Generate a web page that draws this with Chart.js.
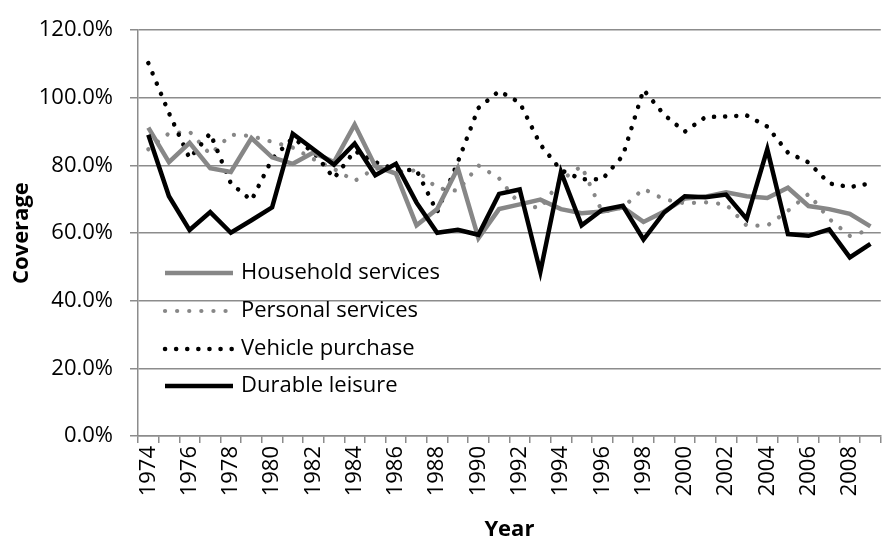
<!DOCTYPE html>
<html>
<head>
<meta charset="utf-8">
<script src="https://cdn.jsdelivr.net/npm/chart.js@4/dist/chart.umd.min.js"></script>
<style>
  html, body { margin: 0; padding: 0; background: #fff; overflow: hidden; }
  #wrap { width: 900px; height: 547px; }
</style>
</head>
<body>
<div id="wrap"><canvas id="chart" width="900" height="547"></canvas></div>
<script>
// --- Data ---
const years = [];
for (let y = 1974; y <= 2009; y++) years.push(String(y));

const household = [91.2, 81.0, 86.7, 79.2, 78.1, 88.1, 82.4, 80.5, 83.8, 81.0, 92.1, 79.8,
    77.6, 62.3, 67.1, 79.2, 58.5, 67.1, 68.5, 69.9, 67.1, 65.9, 66.4, 67.6,
    63.3, 66.4, 70.2, 70.8, 72.1, 70.9, 70.4, 73.4, 68.0, 67.1, 65.7, 62.0];
const personal = [84.8, 89.5, 90.0, 83.3, 89.1, 88.7, 87.0, 85.3, 81.9, 79.0, 75.4, 79.2,
    78.0, 78.6, 73.3, 72.5, 80.0, 76.2, 68.5, 67.4, 75.7, 79.8, 66.2, 67.6,
    73.1, 70.0, 68.8, 69.1, 68.5, 62.2, 62.2, 66.6, 71.6, 64.2, 59.2, 61.0];
const vehicle = [110.3, 95.5, 82.1, 89.5, 74.7, 69.7, 81.9, 88.1, 84.0, 76.2, 84.3, 81.0,
    78.8, 78.6, 66.2, 81.0, 97.0, 102.0, 98.6, 86.2, 78.6, 75.9, 75.9, 82.9,
    102.4, 95.0, 90.0, 94.3, 94.5, 94.8, 91.5, 83.8, 80.9, 74.7, 73.6, 74.7];
const durable = [89.1, 70.9, 60.9, 66.2, 60.1, 63.8, 67.6, 89.4, 84.8, 80.2, 86.5, 77.1,
    80.5, 69.0, 60.1, 61.0, 59.5, 71.6, 72.9, 48.5, 78.1, 62.3, 66.9, 68.1,
    58.1, 66.1, 70.9, 70.6, 71.4, 64.2, 84.8, 59.7, 59.2, 61.1, 52.8, 56.8];

const seriesNames = ["Household services", "Personal services", "Vehicle purchase", "Durable leisure"];
const yTicks = [0, 20, 40, 60, 80, 100, 120];

const GRID = '#8c8c8c';
const GRAY = '#878787';
const FONT = "'Open Sans', sans-serif";

// legend drawn inside the plot area, Excel style
const insideLegend = {
    id: 'insideLegend',
    afterDatasetsDraw(chart) {
        const ctx = chart.ctx;
        const rows = [273, 311, 349, 386];
        chart.data.datasets.forEach((ds, i) => {
            const y = rows[i];
            ctx.save();
            ctx.strokeStyle = ds.borderColor;
            ctx.lineWidth = ds.borderWidth;
            ctx.lineCap = ds.borderCapStyle || 'butt';
            ctx.setLineDash(ds.borderDash || []);
            ctx.beginPath();
            ctx.moveTo(165, y);
            ctx.lineTo(233, y);
            ctx.stroke();
            ctx.setLineDash([]);
            ctx.fillStyle = '#000';
            ctx.font = "22px " + FONT;
            ctx.textBaseline = 'middle';
            ctx.fillText(ds.label, 241, y);
            ctx.restore();
        });
    }
};

const ctx = document.getElementById('chart').getContext('2d');
const chart = new Chart(ctx, {
    type: 'line',
    data: {
        labels: years,
        datasets: [
            { label: seriesNames[0], data: household, borderColor: GRAY, borderWidth: 4.5, order: 2 },
            { label: seriesNames[1], data: personal, borderColor: GRAY, borderWidth: 4.2,
              borderDash: [0.1, 12], borderCapStyle: 'round', order: 4 },
            { label: seriesNames[2], data: vehicle, borderColor: '#000', borderWidth: 4.5,
              borderDash: [0.1, 11], borderCapStyle: 'round', order: 3 },
            { label: seriesNames[3], data: durable, borderColor: '#000', borderWidth: 4.5, order: 1 }
        ]
    },
    options: {
        responsive: false,
        animation: false,
        devicePixelRatio: 1,
        layout: { padding: { top: 17, right: 10, left: 0, bottom: 0 } },
        elements: { point: { radius: 0 }, line: { tension: 0, fill: false } },
        plugins: { legend: { display: false }, tooltip: { enabled: false } },
        scales: {
            x: {
                offset: true,
                grid: { drawOnChartArea: false, drawTicks: true, tickLength: 7, color: GRID, lineWidth: 1.5, offset: true },
                border: { color: GRID, width: 1.5 },
                ticks: {
                    autoSkip: false, maxRotation: 90, minRotation: 90, padding: 3,
                    color: '#000', font: { family: FONT, size: 22 },
                    callback: (v, i) => (i % 2 === 0 ? years[i] : '')
                },
                title: { display: true, text: 'Year', color: '#000',
                         font: { family: FONT, size: 22, weight: 'bold' }, padding: { top: 0, bottom: 4 } },
                afterFit: s => { s.height = 111; }
            },
            y: {
                min: 0, max: 120,
                afterBuildTicks: s => { s.ticks = yTicks.map(v => ({ value: v })); },
                grid: { color: GRID, lineWidth: 1.5, tickLength: 8 },
                border: { color: GRID, width: 1.5 },
                ticks: {
                    padding: 17, color: '#000', font: { family: FONT, size: 22 },
                    callback: v => v.toFixed(1) + '%'
                },
                title: { display: true, text: 'Coverage', color: '#000',
                         font: { family: FONT, size: 22, weight: 'bold' }, padding: { top: 9, bottom: 0 } },
                afterFit: s => { s.width = 138; }
            }
        }
    },
    plugins: [insideLegend]
});
</script>
</body>
</html>
